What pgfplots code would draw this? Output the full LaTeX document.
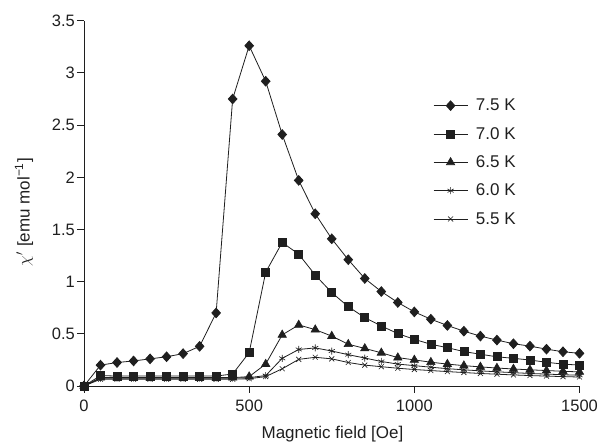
\documentclass[border=0pt]{standalone}
\usepackage{fontspec}
\setmainfont{Liberation Sans}
\usepackage{pgfplots}
\pgfplotsset{compat=1.18}

\definecolor{ink}{gray}{0.12}

% chi' versus applied field at five temperatures
\begin{document}
\begin{tikzpicture}
\path[use as bounding box] (0pt,0pt) rectangle (599pt,443pt);
\begin{axis}[
  at={(84pt,57pt)}, anchor=south west,
  scale only axis, width=495.5pt, height=365.3pt,
  xmin=0, xmax=1500, ymin=0, ymax=3.5,
  axis lines*=left,
  axis line style={ink, line width=0.9pt},
  xtick={0,500,1000,1500},
  ytick={0,0.5,1,1.5,2,2.5,3,3.5},
  yticklabels={0,0.5,1,1.5,2,2.5,3,3.5},
  tick align=outside, major tick length=7pt,
  tick style={ink, line width=0.9pt},
  /pgf/number format/assume math mode=true,
  /pgf/number format/1000 sep={},
  tick label style={font=\fontsize{16.5}{19}\selectfont, text=ink, inner sep=0pt},
  xticklabel style={anchor=north, yshift=-7pt},
  yticklabel style={anchor=east, xshift=-2pt},
  xlabel={Magnetic field [Oe]},
  ylabel={$\chi'$ [emu mol\textsuperscript{−1}]},
  label style={font=\fontsize{17}{20}\selectfont, text=ink},
  xlabel style={at={(axis description cs:0.5015,-0.1432)}, anchor=base},
  ylabel style={at={(axis description cs:-0.121,0.476)}, anchor=center, rotate=0},
  every axis plot/.append style={ink, line width=0.8pt, mark options={solid, fill=ink, line width=0.6pt}},
  legend image code/.code={%
    \draw[mark repeat=2, mark phase=2] plot coordinates {(0pt,0pt) (17pt,0pt) (34pt,0pt)};},
  legend style={draw=none, fill=none, inner sep=0pt,
    at={(axis description cs:0.7043,0.786)}, anchor=north west,
    font=\fontsize{17}{20}\selectfont, text=ink,
    row sep=15pt, column sep=8pt,
    nodes={inner sep=0pt}},
  legend cell align=left,
]
% 7.5 K
\addplot[mark=diamond*, mark size=4.8pt, mark options={xscale=1.2}] coordinates {
 (0,0) (50,0.20) (100,0.225) (150,0.24) (200,0.26) (250,0.28) (300,0.31)
 (350,0.38) (400,0.70) (450,2.75) (500,3.26) (550,2.92) (600,2.41) (650,1.97)
 (700,1.65) (750,1.41) (800,1.21) (850,1.03) (900,0.905) (950,0.80) (1000,0.71)
 (1050,0.64) (1100,0.58) (1150,0.525) (1200,0.478) (1250,0.44) (1300,0.405)
 (1350,0.382) (1400,0.353) (1450,0.328) (1500,0.313)};
% 7.0 K
\addplot[mark=square*, mark size=4pt] coordinates {
 (0,0) (50,0.10) (100,0.095) (150,0.095) (200,0.095) (250,0.095) (300,0.095)
 (350,0.095) (400,0.095) (450,0.115) (500,0.32) (550,1.09) (600,1.375) (650,1.263)
 (700,1.063) (750,0.895) (800,0.76) (850,0.655) (900,0.575) (950,0.502) (1000,0.447)
 (1050,0.40) (1100,0.367) (1150,0.33) (1200,0.304) (1250,0.28) (1300,0.265)
 (1350,0.249) (1400,0.227) (1450,0.21) (1500,0.20)};
% 6.5 K
\addplot[mark=triangle*, mark size=4.8pt] coordinates {
 (0,0) (50,0.08) (100,0.08) (150,0.08) (200,0.08) (250,0.08) (300,0.08)
 (350,0.08) (400,0.08) (450,0.08) (500,0.09) (550,0.21) (600,0.49) (650,0.585)
 (700,0.54) (750,0.478) (800,0.40) (850,0.36) (900,0.318) (950,0.272) (1000,0.25)
 (1050,0.228) (1100,0.21) (1150,0.195) (1200,0.183) (1250,0.172) (1300,0.163)
 (1350,0.155) (1400,0.148) (1450,0.141) (1500,0.135)};
% 6.0 K
\addplot[mark=asterisk, mark size=3.5pt] coordinates {
 (0,0) (50,0.075) (100,0.075) (150,0.075) (200,0.075) (250,0.075) (300,0.075)
 (350,0.075) (400,0.075) (450,0.075) (500,0.08) (550,0.10) (600,0.265) (650,0.35)
 (700,0.365) (750,0.335) (800,0.30) (850,0.268) (900,0.235) (950,0.21) (1000,0.195)
 (1050,0.18) (1100,0.166) (1150,0.155) (1200,0.145) (1250,0.136) (1300,0.128)
 (1350,0.12) (1400,0.114) (1450,0.108) (1500,0.103)};
% 5.5 K
\addplot[mark=x, mark size=3.5pt] coordinates {
 (0,0) (50,0.065) (100,0.065) (150,0.065) (200,0.065) (250,0.065) (300,0.065)
 (350,0.065) (400,0.065) (450,0.065) (500,0.07) (550,0.09) (600,0.165) (650,0.255)
 (700,0.275) (750,0.26) (800,0.225) (850,0.20) (900,0.185) (950,0.17) (1000,0.158)
 (1050,0.148) (1100,0.138) (1150,0.129) (1200,0.12) (1250,0.113) (1300,0.106)
 (1350,0.10) (1400,0.095) (1450,0.09) (1500,0.086)};
\legend{7.5 K, 7.0 K, 6.5 K, 6.0 K, 5.5 K}
\end{axis}
\end{tikzpicture}
\end{document}
